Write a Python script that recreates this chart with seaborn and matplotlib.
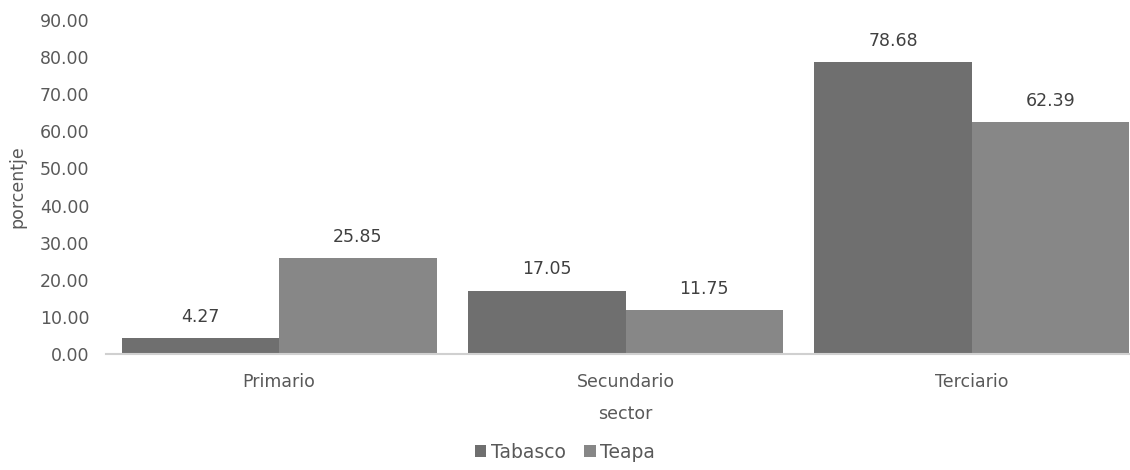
import matplotlib
matplotlib.use("Agg")
import matplotlib.pyplot as plt
import seaborn as sns
import pandas as pd

# datos
sectores = ["Primario", "Secundario", "Terciario"]
tabasco = [4.27, 17.05, 78.68]
teapa = [25.85, 11.75, 62.39]
lugares = ["Tabasco", "Teapa"]
colores = ["#6f6f6f", "#878787"]

df = pd.DataFrame({
    "sector": sectores * 2,
    "porcentaje": tabasco + teapa,
    "lugar": [lugares[0]] * 3 + [lugares[1]] * 3,
})

sns.set_style("white")
plt.rcParams["font.family"] = ["DejaVu Sans"]
texto = "#595959"
fs = 12.5

fig = plt.figure(figsize=(11.3, 4.7), dpi=100)
ax = fig.add_axes([106 / 1130, 1 - 354 / 470, (1145 - 106) / 1130, (354 - 20) / 470])

sns.barplot(data=df, x="sector", y="porcentaje", hue="lugar", palette=colores,
            width=0.91, gap=0, saturation=1, linewidth=0, ax=ax, legend=True)

for cont in ax.containers:
    ax.bar_label(cont, labels=[f"{v:.2f}" for v in cont.datavalues],
                 padding=9, fontsize=fs, color="#404040")

ax.set_ylim(0, 90)
ax.set_yticks(range(0, 91, 10))
ax.set_yticklabels([f"{v:.2f}" for v in range(0, 91, 10)], fontsize=fs, color=texto)
ax.tick_params(axis="x", labelsize=fs, labelcolor=texto, pad=14, length=0)
ax.tick_params(axis="y", length=0, pad=12)
ax.set_xlim(-0.5, 2.5)

ax.set_xlabel("sector", fontsize=fs, color=texto, labelpad=10)
ax.set_ylabel("porcentje", fontsize=fs, color=texto)
ax.yaxis.set_label_coords(-80 / 1039, 0.5)

for s in ["top", "right", "left"]:
    ax.spines[s].set_visible(False)
ax.spines["bottom"].set_color("#d0d0d0")
ax.spines["bottom"].set_linewidth(1.5)

leg = ax.legend(loc="lower center", bbox_to_anchor=(565 / 1130, 0.0), bbox_transform=fig.transFigure,
                ncol=2, frameon=False, fontsize=13.5, handlelength=0.6, handleheight=0.6,
                handletextpad=0.25, columnspacing=1.0, borderaxespad=0.05)
for t in leg.get_texts():
    t.set_color(texto)

fig.savefig("out.png", dpi=100)
